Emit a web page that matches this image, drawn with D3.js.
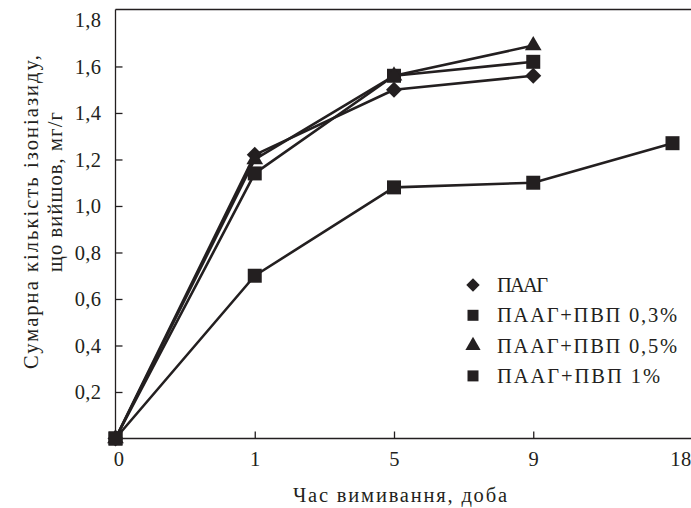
<!DOCTYPE html>
<html>
<head>
<meta charset="utf-8">
<script src="https://cdn.jsdelivr.net/npm/d3@7"></script>
<style>
  body { margin: 0; background: #fff; }
  text { font-family: "Liberation Serif", "DejaVu Serif", serif; fill: #231f20; }
</style>
</head>
<body>
<script>
// Categories and values
var days = ["0", "1", "5", "9", "18"];
var yTicks = [0.2, 0.4, 0.6, 0.8, 1.0, 1.2, 1.4, 1.6, 1.8];
var seriesNames = ["ПААГ", "ПААГ+ПВП 0,3%", "ПААГ+ПВП 0,5%", "ПААГ+ПВП 1%"];
var paag = [0, 1.22, 1.50, 1.56];
var pvp03 = [0, 1.14, 1.56, 1.62];
var pvp05 = [0, 1.20, 1.56, 1.69];
var pvp1 = [0, 0.70, 1.08, 1.10, 1.27];

var width = 691, height = 508;
var ink = "#231f20";
var fontSize = 20.5;

var svg = d3.select("body").append("svg")
    .attr("width", width)
    .attr("height", height);

// Set the ranges
var x = d3.scalePoint().domain(days).range([115.5, 672.5]);
var y = d3.scaleLinear().domain([0, 1.845]).range([438.5, 9.5]);

var allSeries = [paag, pvp03, pvp05, pvp1];

// diamond = square turned by 45 degrees
var shapes = [
    {type: d3.symbolSquare, rot: 45},
    {type: d3.symbolSquare, rot: 0},
    {type: d3.symbolTriangle, rot: 0},
    {type: d3.symbolSquare, rot: 0}
];

// top frame line
svg.append("line")
    .attr("x1", x("0")).attr("x2", width)
    .attr("y1", y(1.845)).attr("y2", y(1.845))
    .attr("stroke", ink).attr("stroke-width", 1.3);

// X axis
var xAxis = d3.axisBottom(x).tickSizeInner(-7).tickSizeOuter(0).tickPadding(13);
var gx = svg.append("g")
    .attr("transform", "translate(0," + y(0) + ")")
    .call(xAxis);
gx.select(".domain").attr("d", "M" + x("0") + ",0H" + width);
gx.selectAll(".tick").filter(function (d) { return d === "0" || d === "18"; })
    .select("line").remove();
gx.selectAll(".tick").filter(function (d) { return d === "18"; })
    .select("text").attr("dx", 8);
gx.selectAll(".tick").filter(function (d) { return d === "0"; })
    .select("text").attr("dx", 3);

// Y axis
var yAxis = d3.axisLeft(y).tickValues(yTicks).tickSizeInner(-7).tickSizeOuter(0).tickPadding(14)
    .tickFormat(function (d) { return d3.format(".1f")(d).replace(".", ","); });
var gy = svg.append("g")
    .attr("transform", "translate(" + x("0") + ",0)")
    .call(yAxis);
gy.select(".domain").attr("d", "M0," + y(0) + "V" + y(1.845));
gy.selectAll(".tick").filter(function (d) { return d === 1.8; })
    .select("line").remove();

svg.selectAll(".domain, .tick line").attr("stroke", ink).attr("stroke-width", 1.3);
svg.selectAll(".tick text").attr("font-size", fontSize).attr("fill", ink)
    .attr("letter-spacing", 0.4)
    .style("font-family", "'Liberation Serif', serif");

// lines
var line = d3.line()
    .x(function (d, i) { return x(days[i]); })
    .y(function (d) { return y(d); });

svg.selectAll(".series")
    .data(allSeries)
    .enter()
    .append("path")
    .attr("fill", "none")
    .attr("stroke", ink)
    .attr("stroke-width", 2.6)
    .attr("stroke-linejoin", "round")
    .attr("d", line);

// markers
var symSize = [128, 196, 120, 196];
allSeries.forEach(function (s, k) {
    svg.selectAll(".m" + k)
        .data(s)
        .enter()
        .append("path")
        .attr("transform", function (d, i) {
            return "translate(" + x(days[i]) + "," + y(d) + ") rotate(" + shapes[k].rot + ")";
        })
        .attr("d", d3.symbol().type(shapes[k].type).size(symSize[k]))
        .attr("fill", ink);
});

// legend
var legendWidths = [51, 180, 180, 163];
var legendSize = [90, 121, 100, 121];
var legend = svg.append("g").attr("transform", "translate(473,285)");
seriesNames.forEach(function (name, k) {
    var row = legend.append("g").attr("transform", "translate(0," + (k * 30.3) + ")");
    row.append("path")
        .attr("transform", "rotate(" + shapes[k].rot + ")")
        .attr("d", d3.symbol().type(shapes[k].type).size(legendSize[k]))
        .attr("fill", ink);
    row.append("text")
        .attr("x", 24)
        .attr("y", 7)
        .attr("font-size", fontSize)
        .attr("textLength", legendWidths[k])
        .attr("lengthAdjust", "spacing")
        .text(name);
});

// axis titles
svg.append("text")
    .attr("x", 400)
    .attr("y", 502)
    .attr("text-anchor", "middle")
    .attr("font-size", fontSize)
    .attr("textLength", 214)
    .attr("lengthAdjust", "spacing")
    .text("Час вимивання, доба");

svg.append("text")
    .attr("transform", "translate(38,212) rotate(-90)")
    .attr("text-anchor", "middle")
    .attr("font-size", fontSize)
    .attr("textLength", 314)
    .attr("lengthAdjust", "spacing")
    .text("Сумарна кількість ізоніазиду,");

svg.append("text")
    .attr("transform", "translate(62,192) rotate(-90)")
    .attr("text-anchor", "middle")
    .attr("font-size", fontSize)
    .attr("textLength", 160)
    .attr("lengthAdjust", "spacing")
    .text("що вийшов, мг/г");
</script>
</body>
</html>
